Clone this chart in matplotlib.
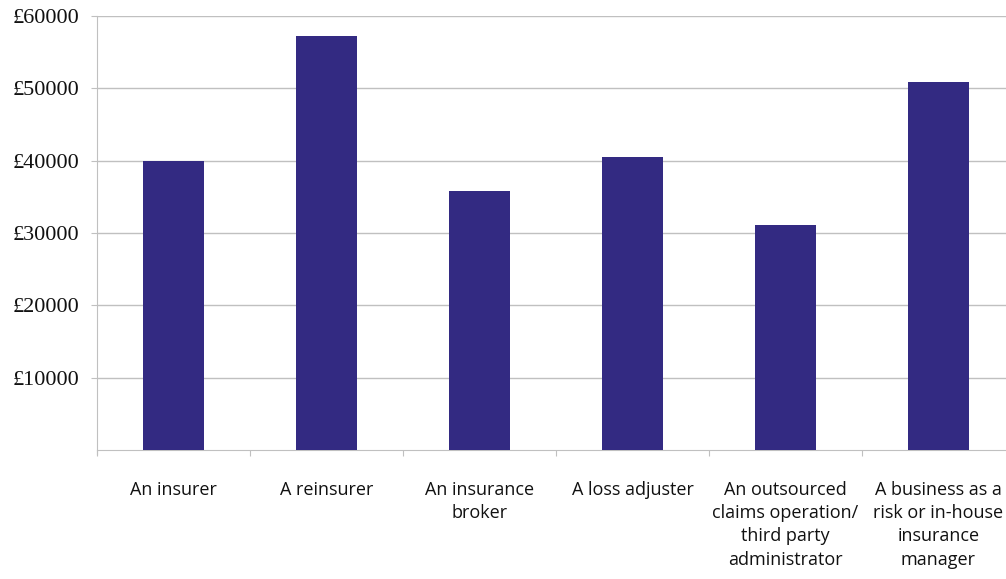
import matplotlib
matplotlib.use("Agg")
import matplotlib.pyplot as plt
import numpy as np

categories = ["An insurer", "A reinsurer", "An insurance\nbroker", "A loss adjuster",
              "An outsourced\nclaims operation/\nthird party\nadministrator",
              "A business as a\nrisk or in-house\ninsurance\nmanager"]
values = [40000, 57200, 35800, 40500, 31100, 50900]
yticks = [10000, 20000, 30000, 40000, 50000, 60000]
ytick_labels = ["£10000", "£20000", "£30000", "£40000", "£50000", "£60000"]

W, H = 1006, 579
fig = plt.figure(figsize=(W / 100, H / 100), dpi=100)
x0, x1 = 97, 1015
y_top, y_bot = 16, 450
ax = fig.add_axes([x0 / W, 1 - y_bot / H, (x1 - x0) / W, (y_bot - y_top) / H])

pos = np.arange(len(categories))
ax.bar(pos, values, width=0.405, color="#332a82", zorder=3)
ax.set_xlim(-0.5, len(categories) - 0.5)
ax.set_ylim(0, 60000)

grid_c = "#c0c0c0"
ax.set_yticks(yticks)
ax.set_yticklabels(ytick_labels, fontsize=16, family="Liberation Serif", color="#111111")
ax.yaxis.grid(True, color=grid_c, linewidth=1, zorder=0)
ax.tick_params(axis="y", length=4.3, color=grid_c, pad=8.5)

ax.set_xticks(np.arange(-0.5, len(categories), 1.0), minor=False)
ax.set_xticklabels([])
ax.set_xticks(pos, minor=True)
ax.set_xticklabels(categories, minor=True, fontsize=13, family="Open Sans",
                   color="#111111", linespacing=1.38, va="top")
ax.tick_params(axis="x", which="major", length=4.3, color=grid_c)
ax.tick_params(axis="x", which="minor", length=0, pad=22)

for s in ["top", "right"]:
    ax.spines[s].set_visible(False)
ax.spines["left"].set_color(grid_c)
ax.spines["bottom"].set_color(grid_c)
ax.spines["left"].set_bounds(-500, 60000)

fig.savefig("out.png", dpi=100)
